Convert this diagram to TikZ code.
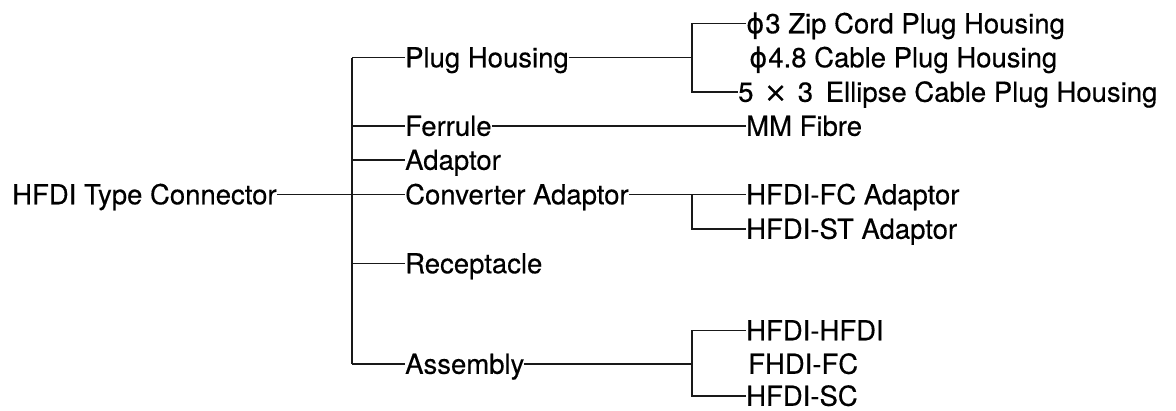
\documentclass[tikz,border=0pt]{standalone}
\usepackage{fontspec}
\setmainfont{TeX Gyre Heros}
\newfontfamily\lblfont[FakeBold=0.35]{TeX Gyre Heros}
\newfontfamily\symf[FakeBold=0.35]{DejaVu Sans}
\begin{document}
\begin{tikzpicture}[x=1pt,y=-1pt,
  lbl/.style={anchor=west, inner sep=0pt, text height=19.5pt, text depth=0pt,
    font=\lblfont\fontsize{27.5}{30}\selectfont, text=black},
  conn/.style={draw=black!90, line width=1.1pt}]
\useasboundingbox (0,0) rectangle (1176,410);
% root
\node[lbl] (root) at (12,194.5) {HFDI Type Connector};
% level 1
\node[lbl] (plug) at (405,57.5) {Plug Housing};
\node[lbl] (ferr) at (405,126) {Ferrule};
\node[lbl] (adap) at (405,160) {Adaptor};
\node[lbl] (conv) at (405,194.5) {Converter Adaptor};
\node[lbl] (rece) at (405,263.5) {Receptacle};
\node[lbl] (asse) at (405,364) {Assembly};
% level 2
\node[lbl] (phia) at (746,23.5) {{\symf ϕ}\hspace{1pt}3 Zip Cord Plug Housing};
\node[lbl] (phib) at (749,57.5) {{\symf ϕ}\hspace{1pt}4.8 Cable Plug Housing};
\node[lbl] (ell) at (738,92) {5\hspace{3pt} {\symf ×} \hspace{3pt}3\hspace{5pt} Ellipse Cable Plug Housing};
\node[lbl] (mm) at (746,126) {MM Fibre};
\node[lbl] (hfc) at (746,194.5) {HFDI-FC Adaptor};
\node[lbl] (hst) at (746,229) {HFDI-ST Adaptor};
\node[lbl] (hh) at (746,330.5) {HFDI-HFDI};
\node[lbl] (fh) at (748,364) {FHDI-FC};
\node[lbl] (hsc) at (746,396) {HFDI-SC};
% trunk
\coordinate (tT) at (352,57.5);
\coordinate (tB) at (352,364);
\coordinate (br) at (692,0);
\draw[conn] (tT) -- (tB);
\draw[conn] (root.east) -- (root.east -| tT);
\foreach \n in {plug,ferr,adap,conv,rece,asse}
  \draw[conn] (\n.west -| tT) -- (\n.west);
% plug housing bracket
\draw[conn] (plug.east) -- (plug.east -| br);
\draw[conn] (phia.west) -- (phia.west -| br) -- (ell.west -| br) -- (ell.west);
% ferrule
\draw[conn] (ferr.east) -- (mm.west);
% converter adaptor
\draw[conn] (conv.east) -- (hfc.west);
\draw[conn] (hfc.west -| br) -- (hst.west -| br) -- (hst.west);
% assembly
\draw[conn] (asse.east) -- (asse.east -| br);
\draw[conn] (hh.west) -- (hh.west -| br) -- (hsc.west -| br) -- (hsc.west);
\end{tikzpicture}
\end{document}
